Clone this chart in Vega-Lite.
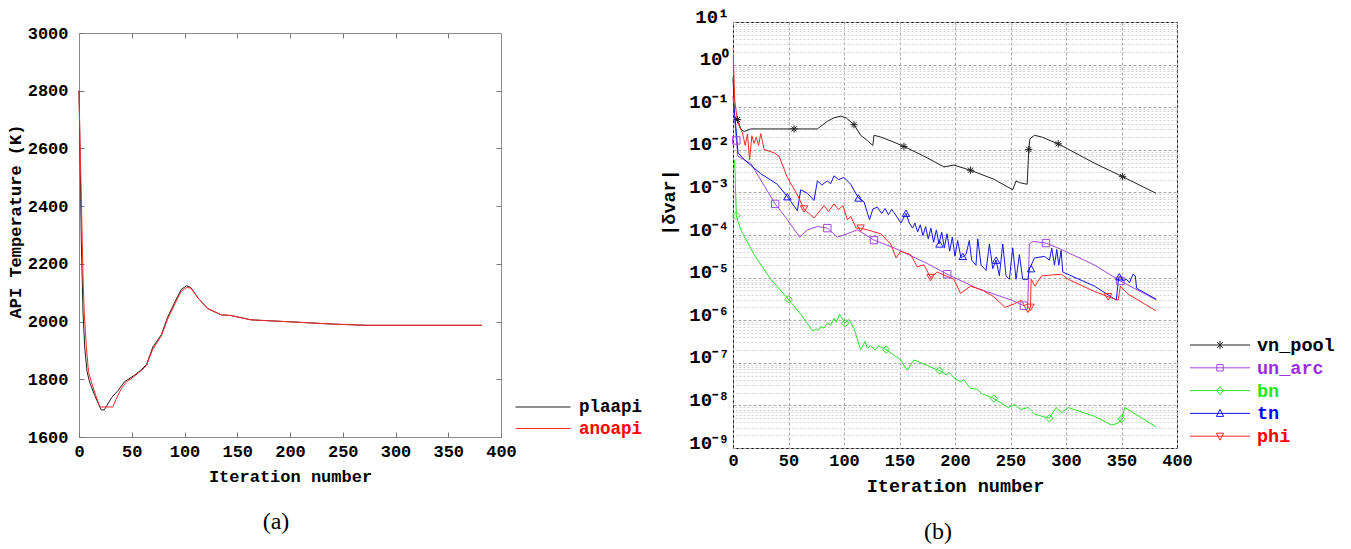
{
  "$schema": "https://vega.github.io/schema/vega-lite/v6.json",
  "background": "white",
  "padding": {"left": 5, "top": 6, "right": 0, "bottom": 0},
  "bounds": "flush",
  "center": true,
  "spacing": 232,
  "config": {
    "font": "Liberation Mono",
    "axis": {"labelFont": "Liberation Mono", "labelFontWeight": "bold", "labelColor": "#000", "titleFont": "Liberation Mono", "titleFontWeight": "bold", "titleColor": "#000"},
    "legend": {"labelFont": "Liberation Mono", "labelFontWeight": "bold"}
  },
  "resolve": {"scale": {"color": "independent"}, "legend": {"color": "independent"}},
  "datasets": {
    "api": [
      {"series": "plaapi", "iteration": 0, "temperature": 2800},
      {"series": "plaapi", "iteration": 1.3, "temperature": 2516},
      {"series": "plaapi", "iteration": 2.2, "temperature": 2275},
      {"series": "plaapi", "iteration": 3.8, "temperature": 2033},
      {"series": "plaapi", "iteration": 5.4, "temperature": 1912},
      {"series": "plaapi", "iteration": 7.6, "temperature": 1827},
      {"series": "plaapi", "iteration": 10, "temperature": 1791},
      {"series": "plaapi", "iteration": 15, "temperature": 1743},
      {"series": "plaapi", "iteration": 21, "temperature": 1694},
      {"series": "plaapi", "iteration": 24, "temperature": 1694},
      {"series": "plaapi", "iteration": 31, "temperature": 1737},
      {"series": "plaapi", "iteration": 37, "temperature": 1761},
      {"series": "plaapi", "iteration": 43, "temperature": 1791},
      {"series": "plaapi", "iteration": 53, "temperature": 1815},
      {"series": "plaapi", "iteration": 59, "temperature": 1833},
      {"series": "plaapi", "iteration": 64, "temperature": 1851},
      {"series": "plaapi", "iteration": 70, "temperature": 1912},
      {"series": "plaapi", "iteration": 78, "temperature": 1954},
      {"series": "plaapi", "iteration": 84, "temperature": 2015},
      {"series": "plaapi", "iteration": 91, "temperature": 2069},
      {"series": "plaapi", "iteration": 97, "temperature": 2112},
      {"series": "plaapi", "iteration": 102, "temperature": 2124},
      {"series": "plaapi", "iteration": 106, "temperature": 2118},
      {"series": "plaapi", "iteration": 113, "temperature": 2081},
      {"series": "plaapi", "iteration": 122, "temperature": 2045},
      {"series": "plaapi", "iteration": 135, "temperature": 2023},
      {"series": "plaapi", "iteration": 144, "temperature": 2021},
      {"series": "plaapi", "iteration": 163, "temperature": 2006},
      {"series": "plaapi", "iteration": 179, "temperature": 2003},
      {"series": "plaapi", "iteration": 201, "temperature": 1999},
      {"series": "plaapi", "iteration": 242, "temperature": 1991},
      {"series": "plaapi", "iteration": 274, "temperature": 1987},
      {"series": "plaapi", "iteration": 337, "temperature": 1987},
      {"series": "plaapi", "iteration": 382, "temperature": 1987},
      {"series": "anoapi", "iteration": 0, "temperature": 2800},
      {"series": "anoapi", "iteration": 1, "temperature": 2620},
      {"series": "anoapi", "iteration": 2.5, "temperature": 2380},
      {"series": "anoapi", "iteration": 3.8, "temperature": 2154},
      {"series": "anoapi", "iteration": 5, "temperature": 2030},
      {"series": "anoapi", "iteration": 7, "temperature": 1912},
      {"series": "anoapi", "iteration": 9, "temperature": 1827},
      {"series": "anoapi", "iteration": 11.7, "temperature": 1791},
      {"series": "anoapi", "iteration": 16, "temperature": 1743},
      {"series": "anoapi", "iteration": 19.6, "temperature": 1706},
      {"series": "anoapi", "iteration": 21, "temperature": 1704},
      {"series": "anoapi", "iteration": 32, "temperature": 1704},
      {"series": "anoapi", "iteration": 35, "temperature": 1730},
      {"series": "anoapi", "iteration": 40, "temperature": 1767},
      {"series": "anoapi", "iteration": 45, "temperature": 1791},
      {"series": "anoapi", "iteration": 53, "temperature": 1812},
      {"series": "anoapi", "iteration": 59, "temperature": 1830},
      {"series": "anoapi", "iteration": 64, "temperature": 1848},
      {"series": "anoapi", "iteration": 70, "temperature": 1905},
      {"series": "anoapi", "iteration": 78, "temperature": 1950},
      {"series": "anoapi", "iteration": 84, "temperature": 2008},
      {"series": "anoapi", "iteration": 91, "temperature": 2062},
      {"series": "anoapi", "iteration": 97, "temperature": 2105},
      {"series": "anoapi", "iteration": 102, "temperature": 2118},
      {"series": "anoapi", "iteration": 106, "temperature": 2116},
      {"series": "anoapi", "iteration": 113, "temperature": 2081},
      {"series": "anoapi", "iteration": 122, "temperature": 2045},
      {"series": "anoapi", "iteration": 135, "temperature": 2023},
      {"series": "anoapi", "iteration": 144, "temperature": 2021},
      {"series": "anoapi", "iteration": 163, "temperature": 2006},
      {"series": "anoapi", "iteration": 179, "temperature": 2003},
      {"series": "anoapi", "iteration": 201, "temperature": 1999},
      {"series": "anoapi", "iteration": 242, "temperature": 1991},
      {"series": "anoapi", "iteration": 274, "temperature": 1987},
      {"series": "anoapi", "iteration": 337, "temperature": 1987},
      {"series": "anoapi", "iteration": 382, "temperature": 1987}
    ],
    "resid": [
      {"series": "vn_pool", "iteration": 0, "delta": 0.5},
      {"series": "vn_pool", "iteration": 1.5, "delta": 0.0575},
      {"series": "vn_pool", "iteration": 4, "delta": 0.0513},
      {"series": "vn_pool", "iteration": 7, "delta": 0.0309},
      {"series": "vn_pool", "iteration": 10, "delta": 0.0269},
      {"series": "vn_pool", "iteration": 16, "delta": 0.0309},
      {"series": "vn_pool", "iteration": 55, "delta": 0.0309},
      {"series": "vn_pool", "iteration": 76, "delta": 0.0309},
      {"series": "vn_pool", "iteration": 79, "delta": 0.0355},
      {"series": "vn_pool", "iteration": 85, "delta": 0.0468},
      {"series": "vn_pool", "iteration": 91, "delta": 0.0562},
      {"series": "vn_pool", "iteration": 97, "delta": 0.0617},
      {"series": "vn_pool", "iteration": 102, "delta": 0.0562},
      {"series": "vn_pool", "iteration": 109, "delta": 0.0389},
      {"series": "vn_pool", "iteration": 115, "delta": 0.0219},
      {"series": "vn_pool", "iteration": 121, "delta": 0.0166},
      {"series": "vn_pool", "iteration": 126, "delta": 0.0126},
      {"series": "vn_pool", "iteration": 127, "delta": 0.0219},
      {"series": "vn_pool", "iteration": 133, "delta": 0.02},
      {"series": "vn_pool", "iteration": 145, "delta": 0.0151},
      {"series": "vn_pool", "iteration": 154, "delta": 0.012},
      {"series": "vn_pool", "iteration": 175, "delta": 0.00646},
      {"series": "vn_pool", "iteration": 190, "delta": 0.00398},
      {"series": "vn_pool", "iteration": 199, "delta": 0.00437},
      {"series": "vn_pool", "iteration": 214, "delta": 0.00331},
      {"series": "vn_pool", "iteration": 235, "delta": 0.00204},
      {"series": "vn_pool", "iteration": 252, "delta": 0.00115},
      {"series": "vn_pool", "iteration": 255, "delta": 0.00186},
      {"series": "vn_pool", "iteration": 258, "delta": 0.0017},
      {"series": "vn_pool", "iteration": 265, "delta": 0.00155},
      {"series": "vn_pool", "iteration": 266.5, "delta": 0.0102},
      {"series": "vn_pool", "iteration": 267.5, "delta": 0.0182},
      {"series": "vn_pool", "iteration": 271.6, "delta": 0.0219},
      {"series": "vn_pool", "iteration": 278, "delta": 0.02},
      {"series": "vn_pool", "iteration": 293, "delta": 0.0138},
      {"series": "vn_pool", "iteration": 326, "delta": 0.00479},
      {"series": "vn_pool", "iteration": 351, "delta": 0.00234},
      {"series": "vn_pool", "iteration": 381, "delta": 0.000955},
      {"series": "un_arc", "iteration": 0, "delta": 0.178},
      {"series": "un_arc", "iteration": 3, "delta": 0.0166},
      {"series": "un_arc", "iteration": 4.5, "delta": 0.00708},
      {"series": "un_arc", "iteration": 7, "delta": 0.00646},
      {"series": "un_arc", "iteration": 16, "delta": 0.00479},
      {"series": "un_arc", "iteration": 38, "delta": 0.000537},
      {"series": "un_arc", "iteration": 49, "delta": 0.000229},
      {"series": "un_arc", "iteration": 60, "delta": 8.91e-5},
      {"series": "un_arc", "iteration": 67, "delta": 1.32e-4},
      {"series": "un_arc", "iteration": 76, "delta": 1.58e-4},
      {"series": "un_arc", "iteration": 85, "delta": 1.45e-4},
      {"series": "un_arc", "iteration": 94, "delta": 8.91e-5},
      {"series": "un_arc", "iteration": 103, "delta": 1.07e-4},
      {"series": "un_arc", "iteration": 112, "delta": 1.32e-4},
      {"series": "un_arc", "iteration": 118, "delta": 1.07e-4},
      {"series": "un_arc", "iteration": 127, "delta": 7.59e-5},
      {"series": "un_arc", "iteration": 145, "delta": 5.01e-5},
      {"series": "un_arc", "iteration": 175, "delta": 2.14e-5},
      {"series": "un_arc", "iteration": 193, "delta": 1.2e-5},
      {"series": "un_arc", "iteration": 220, "delta": 5.62e-6},
      {"series": "un_arc", "iteration": 251, "delta": 2.95e-6},
      {"series": "un_arc", "iteration": 262, "delta": 2.19e-6},
      {"series": "un_arc", "iteration": 265.6, "delta": 2.4e-6},
      {"series": "un_arc", "iteration": 267, "delta": 6.17e-5},
      {"series": "un_arc", "iteration": 270, "delta": 7.08e-5},
      {"series": "un_arc", "iteration": 282, "delta": 6.46e-5},
      {"series": "un_arc", "iteration": 296, "delta": 4.57e-5},
      {"series": "un_arc", "iteration": 326, "delta": 1.95e-5},
      {"series": "un_arc", "iteration": 349, "delta": 8.32e-6},
      {"series": "un_arc", "iteration": 381, "delta": 3.02e-6},
      {"series": "bn", "iteration": 1.5, "delta": 5.89e-3},
      {"series": "bn", "iteration": 3, "delta": 2.82e-4},
      {"series": "bn", "iteration": 7, "delta": 1.32e-4},
      {"series": "bn", "iteration": 19, "delta": 3.47e-5},
      {"series": "bn", "iteration": 34, "delta": 9.12e-6},
      {"series": "bn", "iteration": 50, "delta": 3.09e-6},
      {"series": "bn", "iteration": 61, "delta": 1.38e-6},
      {"series": "bn", "iteration": 72, "delta": 5.5e-7},
      {"series": "bn", "iteration": 75, "delta": 6.3e-7},
      {"series": "bn", "iteration": 77, "delta": 5.8e-7},
      {"series": "bn", "iteration": 79, "delta": 7.08e-7},
      {"series": "bn", "iteration": 82, "delta": 6.5e-7},
      {"series": "bn", "iteration": 85, "delta": 8.51e-7},
      {"series": "bn", "iteration": 88, "delta": 7.6e-7},
      {"series": "bn", "iteration": 91, "delta": 1.12e-6},
      {"series": "bn", "iteration": 93, "delta": 9.0e-7},
      {"series": "bn", "iteration": 96, "delta": 1.38e-6},
      {"series": "bn", "iteration": 101, "delta": 8.51e-7},
      {"series": "bn", "iteration": 104, "delta": 1.05e-6},
      {"series": "bn", "iteration": 109, "delta": 6.46e-7},
      {"series": "bn", "iteration": 115, "delta": 2.04e-7},
      {"series": "bn", "iteration": 119, "delta": 3.2e-7},
      {"series": "bn", "iteration": 121, "delta": 2.2e-7},
      {"series": "bn", "iteration": 124, "delta": 2.51e-7},
      {"series": "bn", "iteration": 128, "delta": 2.0e-7},
      {"series": "bn", "iteration": 131, "delta": 2.5e-7},
      {"series": "bn", "iteration": 138, "delta": 2.04e-7},
      {"series": "bn", "iteration": 151, "delta": 1.17e-7},
      {"series": "bn", "iteration": 157, "delta": 6.61e-8},
      {"series": "bn", "iteration": 163, "delta": 1.17e-7},
      {"series": "bn", "iteration": 175, "delta": 8.71e-8},
      {"series": "bn", "iteration": 180, "delta": 7.5e-8},
      {"series": "bn", "iteration": 186, "delta": 6.61e-8},
      {"series": "bn", "iteration": 192, "delta": 5.2e-8},
      {"series": "bn", "iteration": 195, "delta": 5.9e-8},
      {"series": "bn", "iteration": 199, "delta": 4.47e-8},
      {"series": "bn", "iteration": 205, "delta": 3.6e-8},
      {"series": "bn", "iteration": 208, "delta": 4.0e-8},
      {"series": "bn", "iteration": 214, "delta": 2.51e-8},
      {"series": "bn", "iteration": 220, "delta": 2.4e-8},
      {"series": "bn", "iteration": 224, "delta": 1.9e-8},
      {"series": "bn", "iteration": 235, "delta": 1.45e-8},
      {"series": "bn", "iteration": 248, "delta": 8.91e-9},
      {"series": "bn", "iteration": 254, "delta": 1.05e-8},
      {"series": "bn", "iteration": 259, "delta": 8.0e-9},
      {"series": "bn", "iteration": 266, "delta": 8.91e-9},
      {"series": "bn", "iteration": 272, "delta": 6.17e-9},
      {"series": "bn", "iteration": 285, "delta": 5.01e-9},
      {"series": "bn", "iteration": 291, "delta": 8.91e-9},
      {"series": "bn", "iteration": 296, "delta": 6.76e-9},
      {"series": "bn", "iteration": 302, "delta": 8.91e-9},
      {"series": "bn", "iteration": 326, "delta": 5.5e-9},
      {"series": "bn", "iteration": 341, "delta": 3.47e-9},
      {"series": "bn", "iteration": 347, "delta": 3.8e-9},
      {"series": "bn", "iteration": 350, "delta": 4.79e-9},
      {"series": "bn", "iteration": 353, "delta": 8.91e-9},
      {"series": "bn", "iteration": 381, "delta": 3.16e-9},
      {"series": "tn", "iteration": 0.3, "delta": 0.123},
      {"series": "tn", "iteration": 2.4, "delta": 0.0389},
      {"series": "tn", "iteration": 4.5, "delta": 8.51e-3},
      {"series": "tn", "iteration": 10, "delta": 5.89e-3},
      {"series": "tn", "iteration": 25, "delta": 2.75e-3},
      {"series": "tn", "iteration": 40, "delta": 1.55e-3},
      {"series": "tn", "iteration": 49, "delta": 7.94e-4},
      {"series": "tn", "iteration": 58, "delta": 3.72e-4},
      {"series": "tn", "iteration": 61, "delta": 1.15e-3},
      {"series": "tn", "iteration": 67, "delta": 9.55e-4},
      {"series": "tn", "iteration": 73, "delta": 6.46e-4},
      {"series": "tn", "iteration": 76, "delta": 1.86e-3},
      {"series": "tn", "iteration": 80, "delta": 1.5e-3},
      {"series": "tn", "iteration": 85, "delta": 1.86e-3},
      {"series": "tn", "iteration": 88, "delta": 1.6e-3},
      {"series": "tn", "iteration": 91, "delta": 2.45e-3},
      {"series": "tn", "iteration": 95, "delta": 2.0e-3},
      {"series": "tn", "iteration": 100, "delta": 2.24e-3},
      {"series": "tn", "iteration": 106, "delta": 1.55e-3},
      {"series": "tn", "iteration": 113, "delta": 7.41e-4},
      {"series": "tn", "iteration": 118, "delta": 6.03e-4},
      {"series": "tn", "iteration": 123, "delta": 2.29e-4},
      {"series": "tn", "iteration": 126, "delta": 4.07e-4},
      {"series": "tn", "iteration": 130, "delta": 4.5e-4},
      {"series": "tn", "iteration": 134, "delta": 3.2e-4},
      {"series": "tn", "iteration": 137, "delta": 4.2e-4},
      {"series": "tn", "iteration": 140, "delta": 3.0e-4},
      {"series": "tn", "iteration": 143, "delta": 4.0e-4},
      {"series": "tn", "iteration": 145, "delta": 3.39e-4},
      {"series": "tn", "iteration": 151.3, "delta": 1.91e-4},
      {"series": "tn", "iteration": 155.8, "delta": 3.24e-4},
      {"series": "tn", "iteration": 158.8, "delta": 1.91e-4},
      {"series": "tn", "iteration": 161.8, "delta": 1.45e-4},
      {"series": "tn", "iteration": 163.9, "delta": 1.91e-4},
      {"series": "tn", "iteration": 166.3, "delta": 1.17e-4},
      {"series": "tn", "iteration": 168.7, "delta": 1.74e-4},
      {"series": "tn", "iteration": 171.1, "delta": 9.77e-5},
      {"series": "tn", "iteration": 173.5, "delta": 1.58e-4},
      {"series": "tn", "iteration": 175.9, "delta": 8.13e-5},
      {"series": "tn", "iteration": 178.3, "delta": 1.45e-4},
      {"series": "tn", "iteration": 180.7, "delta": 6.76e-5},
      {"series": "tn", "iteration": 183.2, "delta": 1.32e-4},
      {"series": "tn", "iteration": 185.6, "delta": 6.17e-5},
      {"series": "tn", "iteration": 188, "delta": 1.17e-4},
      {"series": "tn", "iteration": 190.4, "delta": 5.01e-5},
      {"series": "tn", "iteration": 192.8, "delta": 1.07e-4},
      {"series": "tn", "iteration": 195.2, "delta": 4.17e-5},
      {"series": "tn", "iteration": 197.6, "delta": 8.91e-5},
      {"series": "tn", "iteration": 200, "delta": 3.16e-5},
      {"series": "tn", "iteration": 202.4, "delta": 7.41e-5},
      {"series": "tn", "iteration": 205.4, "delta": 2.88e-5},
      {"series": "tn", "iteration": 209.9, "delta": 3.47e-5},
      {"series": "tn", "iteration": 212.9, "delta": 7.41e-5},
      {"series": "tn", "iteration": 215, "delta": 2.57e-5},
      {"series": "tn", "iteration": 218.9, "delta": 1.95e-5},
      {"series": "tn", "iteration": 220.5, "delta": 8.13e-5},
      {"series": "tn", "iteration": 223.5, "delta": 1.95e-5},
      {"series": "tn", "iteration": 228, "delta": 1.48e-5},
      {"series": "tn", "iteration": 231, "delta": 6.17e-5},
      {"series": "tn", "iteration": 234, "delta": 1.62e-5},
      {"series": "tn", "iteration": 237, "delta": 2.57e-5},
      {"series": "tn", "iteration": 240, "delta": 1.1e-5},
      {"series": "tn", "iteration": 243, "delta": 6.17e-5},
      {"series": "tn", "iteration": 246, "delta": 1.1e-5},
      {"series": "tn", "iteration": 249, "delta": 9.12e-6},
      {"series": "tn", "iteration": 252, "delta": 5.01e-5},
      {"series": "tn", "iteration": 255, "delta": 9.12e-6},
      {"series": "tn", "iteration": 258, "delta": 3.47e-5},
      {"series": "tn", "iteration": 261, "delta": 9.12e-6},
      {"series": "tn", "iteration": 265.6, "delta": 9.12e-6},
      {"series": "tn", "iteration": 267, "delta": 1.62e-5},
      {"series": "tn", "iteration": 268.6, "delta": 1.95e-5},
      {"series": "tn", "iteration": 271.6, "delta": 2.88e-5},
      {"series": "tn", "iteration": 280.6, "delta": 3.16e-5},
      {"series": "tn", "iteration": 285.1, "delta": 2.57e-5},
      {"series": "tn", "iteration": 287.2, "delta": 4.9e-5},
      {"series": "tn", "iteration": 289.6, "delta": 1.95e-5},
      {"series": "tn", "iteration": 291.7, "delta": 4.57e-5},
      {"series": "tn", "iteration": 293.5, "delta": 1.95e-5},
      {"series": "tn", "iteration": 295.6, "delta": 4.37e-5},
      {"series": "tn", "iteration": 297.1, "delta": 1.35e-5},
      {"series": "tn", "iteration": 325.7, "delta": 6.31e-6},
      {"series": "tn", "iteration": 345.3, "delta": 2.95e-6},
      {"series": "tn", "iteration": 347.4, "delta": 1.0e-5},
      {"series": "tn", "iteration": 349.2, "delta": 1.1e-5},
      {"series": "tn", "iteration": 351.3, "delta": 8.32e-6},
      {"series": "tn", "iteration": 354.3, "delta": 9.12e-6},
      {"series": "tn", "iteration": 357.3, "delta": 7.59e-6},
      {"series": "tn", "iteration": 360.3, "delta": 1.2e-5},
      {"series": "tn", "iteration": 362.4, "delta": 1.1e-5},
      {"series": "tn", "iteration": 363.6, "delta": 5.62e-6},
      {"series": "tn", "iteration": 381.4, "delta": 3.09e-6},
      {"series": "phi", "iteration": 0.3, "delta": 1.74},
      {"series": "phi", "iteration": 1.5, "delta": 0.148},
      {"series": "phi", "iteration": 4, "delta": 0.0468},
      {"series": "phi", "iteration": 7, "delta": 0.0295},
      {"series": "phi", "iteration": 8.5, "delta": 0.0251},
      {"series": "phi", "iteration": 11, "delta": 0.0126},
      {"series": "phi", "iteration": 13, "delta": 0.0234},
      {"series": "phi", "iteration": 15, "delta": 5.89e-3},
      {"series": "phi", "iteration": 17, "delta": 0.0214},
      {"series": "phi", "iteration": 19, "delta": 0.0141},
      {"series": "phi", "iteration": 21, "delta": 0.02},
      {"series": "phi", "iteration": 23, "delta": 0.0126},
      {"series": "phi", "iteration": 25, "delta": 0.024},
      {"series": "phi", "iteration": 28, "delta": 0.0102},
      {"series": "phi", "iteration": 37, "delta": 8.51e-3},
      {"series": "phi", "iteration": 41.5, "delta": 7.08e-3},
      {"series": "phi", "iteration": 49, "delta": 2.24e-3},
      {"series": "phi", "iteration": 58, "delta": 8.71e-4},
      {"series": "phi", "iteration": 64, "delta": 4.07e-4},
      {"series": "phi", "iteration": 73, "delta": 2.51e-4},
      {"series": "phi", "iteration": 82, "delta": 4.9e-4},
      {"series": "phi", "iteration": 86, "delta": 3.55e-4},
      {"series": "phi", "iteration": 91, "delta": 5.37e-4},
      {"series": "phi", "iteration": 95, "delta": 3.98e-4},
      {"series": "phi", "iteration": 99, "delta": 4.9e-4},
      {"series": "phi", "iteration": 103, "delta": 2.29e-4},
      {"series": "phi", "iteration": 106, "delta": 2.75e-4},
      {"series": "phi", "iteration": 111, "delta": 1.45e-4},
      {"series": "phi", "iteration": 115, "delta": 1.45e-4},
      {"series": "phi", "iteration": 121, "delta": 1.32e-4},
      {"series": "phi", "iteration": 133, "delta": 1.07e-4},
      {"series": "phi", "iteration": 142, "delta": 6.17e-5},
      {"series": "phi", "iteration": 147, "delta": 2.88e-5},
      {"series": "phi", "iteration": 151, "delta": 4.17e-5},
      {"series": "phi", "iteration": 160, "delta": 3.47e-5},
      {"series": "phi", "iteration": 166, "delta": 1.78e-5},
      {"series": "phi", "iteration": 172, "delta": 2.0e-5},
      {"series": "phi", "iteration": 178, "delta": 1.0e-5},
      {"series": "phi", "iteration": 184, "delta": 1.35e-5},
      {"series": "phi", "iteration": 191, "delta": 1.12e-5},
      {"series": "phi", "iteration": 199, "delta": 9.12e-6},
      {"series": "phi", "iteration": 205, "delta": 4.27e-6},
      {"series": "phi", "iteration": 214, "delta": 6.31e-6},
      {"series": "phi", "iteration": 225, "delta": 5.01e-6},
      {"series": "phi", "iteration": 235, "delta": 3.55e-6},
      {"series": "phi", "iteration": 245, "delta": 2.0e-6},
      {"series": "phi", "iteration": 253, "delta": 2.4e-6},
      {"series": "phi", "iteration": 260, "delta": 2.95e-6},
      {"series": "phi", "iteration": 265.6, "delta": 1.51e-6},
      {"series": "phi", "iteration": 268, "delta": 2.0e-6},
      {"series": "phi", "iteration": 268.6, "delta": 9.12e-6},
      {"series": "phi", "iteration": 272, "delta": 6.31e-6},
      {"series": "phi", "iteration": 278, "delta": 1.1e-5},
      {"series": "phi", "iteration": 296, "delta": 1.2e-5},
      {"series": "phi", "iteration": 302, "delta": 9.12e-6},
      {"series": "phi", "iteration": 326, "delta": 4.68e-6},
      {"series": "phi", "iteration": 338, "delta": 3.55e-6},
      {"series": "phi", "iteration": 347, "delta": 2.95e-6},
      {"series": "phi", "iteration": 349, "delta": 6.31e-6},
      {"series": "phi", "iteration": 355, "delta": 4.27e-6},
      {"series": "phi", "iteration": 381, "delta": 1.66e-6}
    ],
    "markers": [
      {"series": "vn_pool", "iteration": 4, "delta": 0.0513},
      {"series": "vn_pool", "iteration": 55, "delta": 0.0309},
      {"series": "vn_pool", "iteration": 109, "delta": 0.0389},
      {"series": "vn_pool", "iteration": 154, "delta": 0.012},
      {"series": "vn_pool", "iteration": 214, "delta": 0.00331},
      {"series": "vn_pool", "iteration": 266.5, "delta": 0.0102},
      {"series": "vn_pool", "iteration": 293, "delta": 0.0138},
      {"series": "vn_pool", "iteration": 351, "delta": 0.00234},
      {"series": "un_arc", "iteration": 3, "delta": 0.0166},
      {"series": "un_arc", "iteration": 38, "delta": 0.000537},
      {"series": "un_arc", "iteration": 85, "delta": 1.45e-4},
      {"series": "un_arc", "iteration": 127, "delta": 7.59e-5},
      {"series": "un_arc", "iteration": 193, "delta": 1.2e-5},
      {"series": "un_arc", "iteration": 262, "delta": 2.19e-6},
      {"series": "un_arc", "iteration": 282, "delta": 6.46e-5},
      {"series": "un_arc", "iteration": 349, "delta": 8.32e-6},
      {"series": "bn", "iteration": 3, "delta": 2.82e-4},
      {"series": "bn", "iteration": 50, "delta": 3.09e-6},
      {"series": "bn", "iteration": 101, "delta": 8.51e-7},
      {"series": "bn", "iteration": 138, "delta": 2.04e-7},
      {"series": "bn", "iteration": 186, "delta": 6.61e-8},
      {"series": "bn", "iteration": 235, "delta": 1.45e-8},
      {"series": "bn", "iteration": 285, "delta": 5.01e-9},
      {"series": "bn", "iteration": 350, "delta": 4.79e-9},
      {"series": "tn", "iteration": 49, "delta": 7.94e-4},
      {"series": "tn", "iteration": 113, "delta": 7.41e-4},
      {"series": "tn", "iteration": 155.8, "delta": 3.24e-4},
      {"series": "tn", "iteration": 186, "delta": 6.17e-5},
      {"series": "tn", "iteration": 207, "delta": 3.16e-5},
      {"series": "tn", "iteration": 237, "delta": 2.57e-5},
      {"series": "tn", "iteration": 268.6, "delta": 1.62e-5},
      {"series": "tn", "iteration": 348, "delta": 1.05e-5},
      {"series": "phi", "iteration": 64, "delta": 4.07e-4},
      {"series": "phi", "iteration": 115, "delta": 1.45e-4},
      {"series": "phi", "iteration": 178, "delta": 1.0e-5},
      {"series": "phi", "iteration": 268, "delta": 2.0e-6},
      {"series": "phi", "iteration": 338, "delta": 3.55e-6}
    ]
  },
  "hconcat": [
    {
      "width": 422,
      "height": 404,
      "view": {"stroke": "#8c8c8c", "strokeWidth": 1},
      "title": {"text": "(a)", "orient": "bottom", "font": "Liberation Serif", "fontSize": 24, "fontWeight": "normal", "color": "#000", "offset": 26, "dx": -14},
      "data": {"name": "api"},
      "layer": [
        {
          "mark": {"type": "line", "strokeWidth": 1},
          "encoding": {
            "x": {"field": "iteration", "type": "quantitative", "scale": {"domain": [0, 400], "nice": false},
              "axis": {"orient": "bottom", "values": [0, 50, 100, 150, 200, 250, 300, 350, 400], "title": "Iteration number", "titleFontSize": 17, "titlePadding": 9, "labelFontSize": 17, "labelPadding": 11, "tickSize": -5, "tickColor": "#777", "domain": false, "grid": false, "labelFlush": false, "labelOverlap": false}},
            "y": {"field": "temperature", "type": "quantitative", "scale": {"domain": [1600, 3000], "nice": false, "zero": false},
              "axis": {"orient": "left", "values": [1600, 1800, 2000, 2200, 2400, 2600, 2800, 3000], "format": "d", "title": "API Temperature (K)", "titleFontSize": 17, "titleX": -64, "titleY": 188, "titleAlign": "center", "titleBaseline": "middle", "labelFontSize": 17, "labelPadding": 16, "tickSize": -5, "tickColor": "#777", "domain": false, "grid": false, "labelFlush": false, "labelOverlap": false}},
            "color": {"field": "series", "type": "nominal", "sort": ["plaapi", "anoapi"],
              "scale": {"domain": ["plaapi", "anoapi"], "range": ["#1e1e1e", "#ff2a2a"]},
              "legend": {"title": null, "orient": "none", "legendX": 453.5, "legendY": 363.5, "padding": 0, "symbolType": "M-2.75,0H2.75", "symbolSize": 400, "symbolStrokeWidth": 1, "labelFontSize": 17.5, "labelOffset": 25.5, "rowPadding": 2.5,
                "encode": {"labels": {"update": {"fill": {"signal": "datum.value === 'anoapi' ? '#ff0000' : '#000000'"}}}}}}
          }
        },
        {
          "mark": {"type": "line", "opacity": 0},
          "encoding": {
            "x": {"field": "iteration", "type": "quantitative", "scale": {"domain": [0, 400], "nice": false},
              "axis": {"orient": "top", "values": [50, 100, 150, 200, 250, 300, 350], "labels": false, "title": null, "tickSize": -5, "tickColor": "#777", "domain": false, "grid": false}},
            "y": {"field": "temperature", "type": "quantitative", "scale": {"domain": [1600, 3000], "nice": false, "zero": false},
              "axis": {"orient": "right", "values": [1800, 2000, 2200, 2400, 2600, 2800], "labels": false, "title": null, "tickSize": -5, "tickColor": "#777", "domain": false, "grid": false}},
            "detail": {"field": "series", "type": "nominal"}
          }
        }
      ],
      "resolve": {"axis": {"x": "independent", "y": "independent"}}
    },
    {
      "width": 444,
      "height": 426,
      "view": {"stroke": "#000", "strokeWidth": 1},
      "title": {"text": "(b)", "orient": "bottom", "font": "Liberation Serif", "fontSize": 24, "fontWeight": "normal", "color": "#000", "offset": 25, "dx": -17},
      "layer": [
        {
          "data": {"name": "resid"},
          "mark": {"type": "line", "strokeWidth": 1},
          "encoding": {
            "x": {"field": "iteration", "type": "quantitative", "scale": {"domain": [0, 400], "nice": false},
              "axis": {"orient": "bottom", "values": [0, 50, 100, 150, 200, 250, 300, 350, 400], "title": "Iteration number", "titleFontSize": 18.5, "titlePadding": 8, "labelFontSize": 17, "labelPadding": 4, "ticks": false, "domain": false, "grid": true, "gridColor": "#a8a8a8", "gridDash": [3, 2], "labelFlush": false, "labelOverlap": false}},
            "y": {"field": "delta", "type": "quantitative", "scale": {"type": "log", "domain": [1e-9, 10], "nice": false},
              "axis": {"orient": "left", "values": [1e-9, 1e-8, 1e-7, 1e-6, 1e-5, 1e-4, 1e-3, 1e-2, 1e-1, 1, 10], "labelExpr": "['10⁻⁹','10⁻⁸','10⁻⁷','10⁻⁶','10⁻⁵','10⁻⁴','10⁻³','10⁻²','10⁻¹','10⁰','10¹'][round(log(datum.value)/LN10)+9]", "labelBaseline": "alphabetic", "title": "|δvar|", "titleFontSize": 18.5, "titleX": -65, "titleY": 180, "titleAlign": "center", "titleBaseline": "middle", "labelFontSize": 19, "labelPadding": 4, "ticks": false, "domain": false, "grid": true, "gridColor": "#a8a8a8", "gridDash": [3, 2], "labelFlush": false, "labelOverlap": false}},
            "color": {"field": "series", "type": "nominal", "sort": ["vn_pool", "un_arc", "bn", "tn", "phi"],
              "scale": {"domain": ["vn_pool", "un_arc", "bn", "tn", "phi"], "range": ["#222222", "#a347e0", "#2ee02e", "#1414ee", "#ff2828"]},
              "legend": {"title": null, "orient": "none", "legendX": 476.5, "legendY": 312.5, "padding": 0, "symbolSize": 400, "symbolStrokeWidth": 1, "labelFontSize": 18.5, "labelOffset": 26.5, "rowPadding": 2.8,
                "encode": {
                  "symbols": {"update": {
                    "shape": {"signal": "datum.value === 'vn_pool' ? 'M-3,0H3M0,-0.42V0.42M-0.3,-0.3L0.3,0.3M-0.3,0.3L0.3,-0.3' : datum.value === 'un_arc' ? 'M-3,0H3M-0.32,-0.32H0.32V0.32H-0.32Z' : datum.value === 'bn' ? 'M-3,0H3M0,-0.4L0.3,0L0,0.4L-0.3,0Z' : datum.value === 'tn' ? 'M-3,0H3M0,-0.4L0.36,0.3H-0.36Z' : 'M-3,0H3M0,0.4L0.36,-0.3H-0.36Z'"},
                    "size": {"value": 400},
                    "fill": {"value": "transparent"},
                    "strokeWidth": {"value": 1}
                  }},
                  "labels": {"update": {"fill": {"signal": "datum.value === 'vn_pool' ? '#000000' : datum.value === 'un_arc' ? '#9a2ee0' : datum.value === 'bn' ? '#1ee81e' : datum.value === 'tn' ? '#0000ff' : '#ff0000'"}}}
                }}}
          }
        },
        {
          "data": {"name": "markers"},
          "encoding": {
            "x": {"field": "iteration", "type": "quantitative", "scale": {"domain": [0, 400], "nice": false},
              "axis": {"orient": "bottom", "values": [0, 50, 100, 150, 200, 250, 300, 350, 400], "title": "Iteration number", "titleFontSize": 18.5, "titlePadding": 8, "labelFontSize": 17, "labelPadding": 4, "ticks": false, "domain": false, "grid": true, "gridColor": "#a8a8a8", "gridDash": [3, 2], "labelFlush": false, "labelOverlap": false}},
            "y": {"field": "delta", "type": "quantitative", "scale": {"type": "log", "domain": [1e-9, 10], "nice": false},
              "axis": {"orient": "right", "values": [2e-9,3e-9,4e-9,5e-9,6e-9,7e-9,8e-9,9e-9,2e-8,3e-8,4e-8,5e-8,6e-8,7e-8,8e-8,9e-8,2e-7,3e-7,4e-7,5e-7,6e-7,7e-7,8e-7,9e-7,2e-6,3e-6,4e-6,5e-6,6e-6,7e-6,8e-6,9e-6,2e-5,3e-5,4e-5,5e-5,6e-5,7e-5,8e-5,9e-5,2e-4,3e-4,4e-4,5e-4,6e-4,7e-4,8e-4,9e-4,0.002,0.003,0.004,0.005,0.006,0.007,0.008,0.009,0.02,0.03,0.04,0.05,0.06,0.07,0.08,0.09,0.2,0.3,0.4,0.5,0.6,0.7,0.8,0.9,2,3,4,5,6,7,8,9], "labels": false, "ticks": false, "domain": false, "title": null, "grid": true, "gridColor": "#d2d2d2", "gridDash": [2, 2]}},
            "color": {"field": "series", "type": "nominal", "sort": ["vn_pool", "un_arc", "bn", "tn", "phi"],
              "scale": {"domain": ["vn_pool", "un_arc", "bn", "tn", "phi"], "range": ["#222222", "#a347e0", "#2ee02e", "#1414ee", "#ff2828"]},
              "legend": {"title": null, "orient": "none", "legendX": 476.5, "legendY": 312.5, "padding": 0, "symbolSize": 400, "symbolStrokeWidth": 1, "labelFontSize": 18.5, "labelOffset": 26.5, "rowPadding": 2.8,
                "encode": {
                  "symbols": {"update": {
                    "shape": {"signal": "datum.value === 'vn_pool' ? 'M-3,0H3M0,-0.42V0.42M-0.3,-0.3L0.3,0.3M-0.3,0.3L0.3,-0.3' : datum.value === 'un_arc' ? 'M-3,0H3M-0.32,-0.32H0.32V0.32H-0.32Z' : datum.value === 'bn' ? 'M-3,0H3M0,-0.4L0.3,0L0,0.4L-0.3,0Z' : datum.value === 'tn' ? 'M-3,0H3M0,-0.4L0.36,0.3H-0.36Z' : 'M-3,0H3M0,0.4L0.36,-0.3H-0.36Z'"},
                    "size": {"value": 400},
                    "fill": {"value": "transparent"},
                    "strokeWidth": {"value": 1}
                  }},
                  "labels": {"update": {"fill": {"signal": "datum.value === 'vn_pool' ? '#000000' : datum.value === 'un_arc' ? '#9a2ee0' : datum.value === 'bn' ? '#1ee81e' : datum.value === 'tn' ? '#0000ff' : '#ff0000'"}}}
                }}}
          },
          "layer": [
            {"transform": [{"filter": "datum.series === 'vn_pool'"}], "mark": {"type": "point", "shape": "M-1,0H1M0,-1V1M-0.7,-0.7L0.7,0.7M-0.7,0.7L0.7,-0.7", "filled": false, "size": 55, "strokeWidth": 1, "opacity": 1}},
            {"transform": [{"filter": "datum.series === 'un_arc'"}], "mark": {"type": "point", "shape": "square", "filled": false, "size": 55, "strokeWidth": 1, "opacity": 1}},
            {"transform": [{"filter": "datum.series === 'bn'"}], "mark": {"type": "point", "shape": "diamond", "filled": false, "size": 55, "strokeWidth": 1, "opacity": 1}},
            {"transform": [{"filter": "datum.series === 'tn'"}], "mark": {"type": "point", "shape": "triangle-up", "filled": false, "size": 55, "strokeWidth": 1, "opacity": 1}},
            {"transform": [{"filter": "datum.series === 'phi'"}], "mark": {"type": "point", "shape": "triangle-down", "filled": false, "size": 55, "strokeWidth": 1, "opacity": 1}}
          ]
        }
      ],
      "resolve": {"axis": {"y": "independent"}}
    }
  ]
}
